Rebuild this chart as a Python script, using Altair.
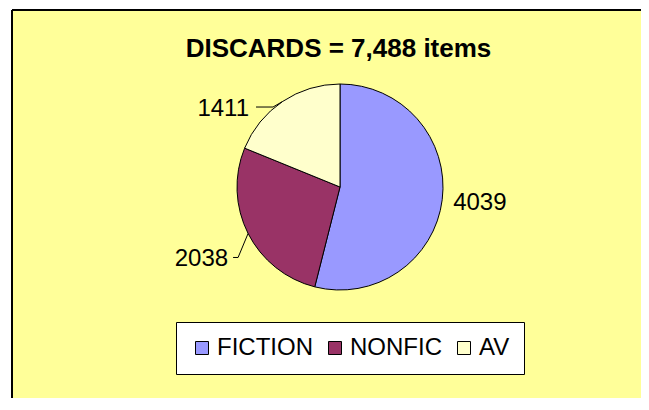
import math
import altair as alt
import pandas as pd

# ---- data ----
categories = ["FICTION", "NONFIC", "AV"]
counts = [4039, 2038, 1411]
colors = ["#9999FF", "#993366", "#FFFFCC"]
title_text = "DISCARDS = 7,488 items"

# ---- layout ----
W, H = 629, 388          # view size (page origin of view = 12,10)
CX, CY, R = 328, 177, 103
FONT = "Liberation Sans"
# leader layout: elbow dx, elbow dy, dash length, gap before text
LEADER = {"NONFIC": (-10, 24, 5, 5), "AV": (-9.5, 5.5, 17, 7)}
RADIAL_OFF = 11

total = sum(counts)
rows, line_rows, lab_rows = [], [], []
cum = 0
for i, (c, v) in enumerate(zip(categories, counts)):
    mid = (cum + v / 2) / total * 2 * math.pi
    cum += v
    rows.append(dict(cat=c, value=v, idx=i))
    ex, ey = CX + R * math.sin(mid), CY - R * math.cos(mid)
    if c in LEADER:
        dx, dy, dash, gap = LEADER[c]
        bx, by = ex + dx, ey + dy
        fx, fy = bx - dash, by
        for k, (px, py) in enumerate([(ex, ey), (bx, by), (fx, fy)]):
            line_rows.append(dict(cat=c, k=k, px=px, py=py))
        lab_rows.append(dict(cat=c, label=str(v), px=fx - gap, py=fy, side="right"))
    else:
        rr = R + RADIAL_OFF
        lab_rows.append(dict(cat=c, label=str(v), px=CX + rr * math.sin(mid),
                             py=CY - rr * math.cos(mid), side="left"))

df = pd.DataFrame(rows)
lines = pd.DataFrame(line_rows)
labs = pd.DataFrame(lab_rows)

pie = alt.Chart(df).mark_arc(radius=R, stroke="black", strokeWidth=1).encode(
    theta=alt.Theta("value:Q", stack=True),
    order=alt.Order("idx:Q"),
    color=alt.Color(
        "cat:N",
        scale=alt.Scale(domain=categories, range=colors),
        legend=alt.Legend(
            title=None, orient="none", legendX=164, legendY=312,
            direction="horizontal", fillColor="white", strokeColor="black",
            padding=14, symbolType="square", symbolSize=169,
            symbolStrokeColor="black", symbolStrokeWidth=1, symbolOpacity=1,
            labelFontSize=24, labelFont=FONT, labelColor="black",
            labelOffset=3, columnPadding=10, labelLimit=0,
        ),
    ),
    x=alt.value(CX),
    y=alt.value(CY),
)

leaders = alt.Chart(lines).mark_line(color="black", strokeWidth=1).encode(
    x=alt.X("px:Q", scale=None, axis=None),
    y=alt.Y("py:Q", scale=None, axis=None),
    detail="cat:N",
    order="k:Q",
)

lab_right = alt.Chart(labs).transform_filter(alt.datum.side == "right").mark_text(
    align="right", baseline="alphabetic", dy=8.5, font=FONT, fontSize=24, color="black"
).encode(
    x=alt.X("px:Q", scale=None, axis=None),
    y=alt.Y("py:Q", scale=None, axis=None),
    text="label:N",
)
lab_left = alt.Chart(labs).transform_filter(alt.datum.side == "left").mark_text(
    align="left", baseline="alphabetic", dy=8.5, font=FONT, fontSize=24, color="black"
).encode(
    x=alt.X("px:Q", scale=None, axis=None),
    y=alt.Y("py:Q", scale=None, axis=None),
    text="label:N",
)

one = pd.DataFrame({"t": [title_text]})
title = alt.Chart(one).mark_text(
    align="center", baseline="alphabetic", font=FONT, fontSize=26,
    fontWeight="bold", color="black"
).encode(x=alt.value(326.5), y=alt.value(47), text="t:N")

frame_top = alt.Chart(one).mark_rule(color="black", strokeWidth=2).encode(
    x=alt.value(0), x2=alt.value(W), y=alt.value(0), y2=alt.value(0)
)
frame_left = alt.Chart(one).mark_rule(color="black", strokeWidth=2).encode(
    x=alt.value(0), x2=alt.value(0), y=alt.value(0), y2=alt.value(H)
)

chart = alt.layer(pie, leaders, lab_right, lab_left, title, frame_top, frame_left).properties(
    width=W, height=H,
    autosize=alt.AutoSizeParams(type="none"),
    padding={"left": 4, "top": 2, "right": 0, "bottom": 0},
    background="white",
).configure_view(fill="#FFFF99", stroke=None)

chart.save("out.html", embed_options={"renderer": "svg", "actions": False})
